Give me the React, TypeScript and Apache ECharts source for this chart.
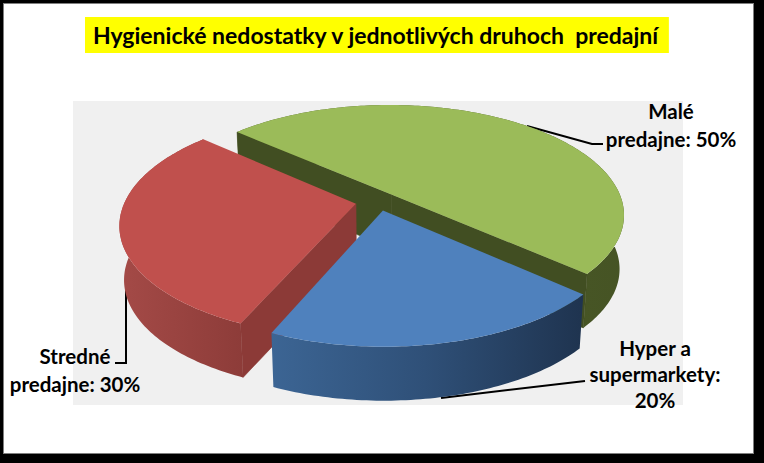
import React, { useEffect, useRef } from "react";
import * as echarts from "echarts";

const titleText = "Hygienické nedostatky v jednotlivých druhoch  predajní";
const categories = ["Malé\npredajne", "Hyper a\nsupermarkety", "Stredné\npredajne"];
const values = [50, 20, 30];
const valueSeparators = [" ", "\n", " "];

const FONT = "Lato, 'Noto Sans', sans-serif";
const startAngle = -138.5;
const explodes = [0.085, 0.085, 0.1];
const proj = { X0: 378.6, Y0: 201.4, A: 231, B: 108, k: 0.18 };
const sideHeight = 54;
const sideConverge = 0.018;

const sliceStyles = [
  { top: "#9bbb59", wall: "#414e22", side: [[0, "#4d5c28"], [1, "#455324"]], z: 1 },
  { top: "#4f81bd", wall: "#2b4565", side: [[0, "#3c6594"], [0.5, "#2f5078"], [1, "#1f3450"]], z: 3 },
  { top: "#c0504d", wall: "#8c3a37", side: [[0, "#a44a47"], [1, "#8a3a37"]], z: 2 },
];
const sideGradientX = [
  [400, 640],
  [270, 580],
  [120, 260],
];
const labelBoxes = [
  { x: 671, y: 125 },
  { x: 655, y: 374 },
  { x: 75, y: 370 },
];
const labelLineHeights = [28, 26, 28];
const leaders = [
  [[527, 126], [592, 144], [603, 144]],
  [[441, 398], [585, 381]],
  [[126, 278], [126, 363], [115, 363]],
];

function project(u: number, v: number): number[] {
  const w = 1 - proj.k * v;
  return [proj.X0 + (proj.A * u) / w, proj.Y0 + (proj.B * v) / w];
}

const total = values.reduce((a, b) => a + b, 0);

function renderSlice(params: any, api: any) {
  const i = params.dataIndex;
  const value = api.value(1);
  const before = values.slice(0, i).reduce((a, b) => a + b, 0);
  const t1 = startAngle + (before / total) * 360;
  const t2 = t1 + (value / total) * 360;
  const mid = (((t1 + t2) / 2) * Math.PI) / 180;
  const du = explodes[i] * Math.cos(mid);
  const dv = explodes[i] * Math.sin(mid);
  const rim = (deg: number, r = 1) => {
    const a = (deg * Math.PI) / 180;
    return project(du + r * Math.cos(a), dv + r * Math.sin(a));
  };
  const apex = project(du, dv);
  const rimPts: number[][] = [];
  for (let d = t1; d < t2; d += 1) rimPts.push(rim(d));
  rimPts.push(rim(t2));
  const down = (p: number[]) => [p[0] + (proj.X0 - p[0]) * sideConverge, p[1] + sideHeight];
  const st = sliceStyles[i];
  const [gx1, gx2] = sideGradientX[i];
  const sideFill = {
    type: "linear",
    x: gx1,
    y: 0,
    x2: gx2,
    y2: 0,
    global: true,
    colorStops: st.side.map((s) => ({ offset: s[0], color: s[1] })),
  };
  const inner = rim((t1 + t2) / 2, 0.5);
  const wallVisible = (end: number[]) => {
    const dx = end[0] - apex[0];
    const edgeY = apex[1] + ((end[1] - apex[1]) / dx) * (inner[0] - apex[0]);
    return inner[1] < edgeY;
  };
  const children: any[] = [
    {
      type: "polygon",
      z2: st.z * 10,
      shape: { points: rimPts.concat(rimPts.map(down).reverse()) },
      style: { fill: sideFill },
    },
  ];
  [rimPts[0], rimPts[rimPts.length - 1]].forEach((end) => {
    if (wallVisible(end)) {
      children.push({
        type: "polygon",
        z2: st.z * 10 + 1,
        shape: { points: [apex, end, down(end), down(apex)] },
        style: { fill: st.wall, stroke: st.wall, lineWidth: 0.6 },
      });
    }
  });
  children.push({
    type: "polygon",
    z2: st.z * 10 + 2,
    shape: { points: [apex].concat(rimPts) },
    style: { fill: st.top },
  });
  return { type: "group", children };
}

export default function App() {
  const ref = useRef<HTMLDivElement>(null);
  useEffect(() => {
    const chart = echarts.init(ref.current!, undefined, { renderer: "svg" });
    chart.setOption({
      animation: false,
      backgroundColor: "transparent",
      title: {
        text: titleText,
        left: 85,
        top: 17,
        padding: [5, 9, 5, 8],
        backgroundColor: "#ffff00",
        textStyle: { fontFamily: FONT, fontSize: 23, fontWeight: "bold", color: "#000", lineHeight: 26 },
      },
      grid: { show: true, left: 73, top: 101, width: 610, height: 304, backgroundColor: "#f0f0f0", borderWidth: 0 },
      series: [
        {
          type: "custom",
          coordinateSystem: "none",
          renderItem: renderSlice,
          data: values.map((v, i) => [i, v]),
          silent: true,
        },
      ],
      graphic: {
        elements: [
          ...leaders.map((pts) => ({
            type: "polyline",
            shape: { points: pts },
            style: { stroke: "#000", lineWidth: 2, fill: "none" },
          })),
          ...categories.map((c, i) => ({
            type: "text",
            x: labelBoxes[i].x,
            y: labelBoxes[i].y,
            style: {
              text: `${c}:${valueSeparators[i]}${values[i]}%`,
              font: `bold 20.5px ${FONT}`,
              fill: "#000",
              align: "center",
              verticalAlign: "middle",
              lineHeight: labelLineHeights[i],
            },
          })),
        ],
      },
    });
    return () => chart.dispose();
  }, []);
  return (
    <div style={{ position: "fixed", left: 0, top: 0, width: 764, height: 463, background: "#000", overflow: "hidden" }}>
      <div
        style={{
          position: "absolute",
          left: 3,
          top: 3,
          width: 751,
          height: 451,
          boxSizing: "border-box",
          background: "#fff",
          border: "1.5px solid #7f7f7f",
        }}
      />
      <div ref={ref} style={{ position: "absolute", left: 0, top: 0, width: 764, height: 463 }} />
    </div>
  );
}
